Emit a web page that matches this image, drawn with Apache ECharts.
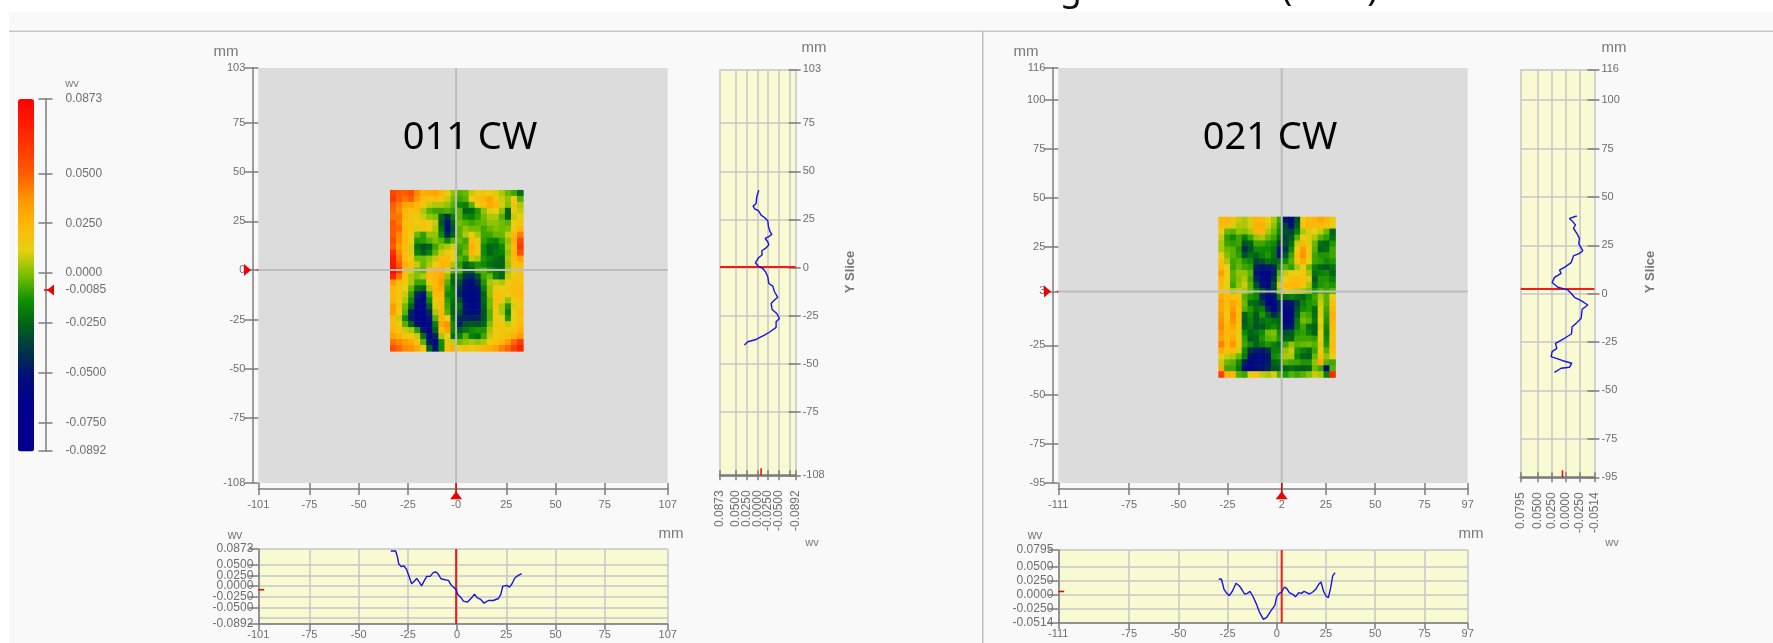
<!DOCTYPE html>
<html>
<head>
<meta charset="utf-8">
<style>
  html, body { margin: 0; padding: 0; background: #fff; }
  #chart { width: 1773px; height: 643px; }
</style>
<script src="https://cdn.jsdelivr.net/npm/echarts@6/dist/echarts.min.js"></script>
</head>
<body>
<div id="chart"></div>
<script>
// colour scale
const scaleMin = -0.0892;
const scaleMax = 0.0873;
const colorStops = ['#00008c', '#00008c', '#00008c', '#000f78', '#003448', '#00601a', '#109000', '#78c000',
  '#e8d010', '#ffb808', '#ff9800', '#ff5e00', '#ff3a00', '#ff1c00', '#ff0000'];
const scaleTicks = [0.0873, 0.05, 0.025, 0, -0.0085, -0.025, -0.05, -0.075, -0.0892];

// left panel ticks
const leftXTicks = [-101, -75, -50, -25, -0.5, 25, 50, 75, 107];
const leftXPlainTicks = [-101, -75, -50, -25, -0.5, 25, 50, 75, 107];
const leftYTicks = [103, 75, 50, 25, 0.3, -25, -50, -75, -108];
const leftSliceYTicks = [103, 75, 50, 25, 0, -25, -50, -75, -108];
const leftValueTicks = [0.0873, 0.05, 0.025, 0, -0.025, -0.05, -0.075, -0.0892];

// right panel ticks
const rightXTicks = [-111, -75, -50, -25, 2.5, 25, 50, 75, 97];
const rightLowerXTicks = [-111, -75, -50, -25, 0, 25, 50, 75, 97];
const rightYTicks = [116, 100, 75, 50, 25, 2.4, -25, -50, -75, -95];
const rightSliceYTicks = [116, 100, 75, 50, 25, 0, -25, -50, -75, -95];
const rightValueTicks = [0.0795, 0.05, 0.025, 0, -0.025, -0.0514];

// slices: [mm, wv]
const leftXSlice = [[-33.7,.0827],[-31.2,.0827],[-30.3,.0686],[-29.7,.0528],[-28.3,.0457],[-27,.0473],[-25.6,.0386],[-24.3,.0213],[-23.1,.0055],[-21.9,.011],[-20.5,.0181],[-19.2,.0095],[-18,.0008],[-16.8,.0118],[-15.4,.0229],[-13.7,.0229],[-12,.0323],[-10.7,.0331],[-9.5,.0276],[-8.2,.0173],[-6.1,.015],[-4.4,.0134],[-3.2,.0039],[-1.9,-.0024],[-.5,-.0079],[.1,-.0181],[1.8,-.026],[3.2,-.0355],[5.2,-.0378],[6.2,-.0339],[7.4,-.0276],[8.8,-.0189],[10.3,-.0276],[12,-.0315],[13.7,-.0402],[15.9,-.0339],[18.4,-.0339],[21,-.0292],[22.2,-.0197],[23.2,0],[25.2,.0016],[26.6,-.0024],[27.9,.0055],[29.4,.0197],[31.1,.0252],[32.8,.0292]];
const rightXSlice = [[-29.5,.0276],[-28.1,.027],[-26.8,.009],[-25.4,.0018],[-24.1,-.0024],[-22.5,.006],[-20.7,.0198],[-19,.015],[-17.6,.0078],[-16.4,.0006],[-14.9,.0018],[-13.6,.0054],[-12.2,-.003],[-10.5,-.0162],[-8.8,-.0318],[-6.8,-.045],[-5.1,-.0414],[-3.1,-.03],[-1,-.0198],[0,-.0042],[1.3,.0018],[2.5,.0042],[3.9,.0132],[5.1,.0102],[6.4,.003],[8.1,0],[9.5,-.0042],[11.2,.003],[12.5,.0018],[13.9,.0054],[15.2,.003],[16.6,.0006],[18.3,.0042],[20,.0102],[21.3,.018],[22.5,.0222],[23.7,.006],[25,-.003],[26.2,-.006],[27.4,.012],[28.4,.033],[29.6,.039]];
const leftYSlice = [[-.0031,40.2],[.0016,36.8],[.0031,33.3],[.0101,31.9],[.0062,30.4],[-.0023,29.5],[-.0086,27.2],[-.0163,26],[-.0241,24.3],[-.0257,21.2],[-.0295,18.6],[-.0334,17.2],[-.0264,16],[-.0179,15.1],[-.0241,13.4],[-.0264,11.7],[-.0187,9.9],[-.0101,8.7],[-.0109,6.5],[-.0031,5.2],[.0047,2.5],[-.0031,.4],[-.0124,-.5],[-.0187,-2.2],[-.0241,-4.8],[-.0264,-8.3],[-.0358,-9.7],[-.0397,-12.6],[-.0474,-15.5],[-.0397,-16.9],[-.0319,-18.7],[-.0342,-21.8],[-.0451,-23.9],[-.0513,-26.5],[-.0435,-28.2],[-.0435,-31.1],[-.0295,-33.4],[-.0163,-35.1],[.0031,-37.4],[.0226,-38.6],[.0303,-40.3]];
const rightYSlice = [[-.0201,40.15],[-.0071,38.9],[-.013,37.2],[-.0178,35.5],[-.0142,33.8],[-.0201,31.2],[-.0249,28.6],[-.0237,25.7],[-.0308,22.2],[-.0249,20.8],[-.0142,19.5],[-.0101,16],[.0018,13.6],[.0107,12.2],[.0077,10.5],[.0195,8.4],[.0237,5.7],[.0136,3.3],[-.0041,1.9],[-.0101,.2],[-.016,-1.9],[-.0278,-3.6],[-.0397,-5.9],[-.0296,-8.1],[-.0278,-12.8],[-.019,-15.4],[-.0118,-17.1],[-.0107,-20.9],[.0018,-23.1],[.0178,-25.7],[.0154,-28.3],[.0237,-30],[.0255,-32.6],[.0047,-34.7],[-.0113,-36],[-.0071,-38.1],[.0077,-38.6],[.0195,-40.7]];

// map cells, thousandths of a wv, top row first
const leftMap = [
  [58,52,50,55,40,28,30,32,25,15,2,-5,-3,8,15,18,14,10,5,-3,-8,-22],
  [62,50,45,50,35,22,20,22,18,8,-2,-8,-5,12,20,25,32,18,8,2,15,-5],
  [50,42,32,30,25,18,8,5,5,2,-5,-15,-18,-5,12,20,30,25,10,0,18,5],
  [48,40,25,20,22,5,-5,-8,-8,-6,-10,-5,-26,-24,-12,2,10,12,2,-25,15,8],
  [45,45,25,18,15,8,2,0,-25,-40,-18,-5,-15,-18,-10,-2,5,5,-5,-26,8,12],
  [52,42,20,20,15,20,15,8,-28,-50,-25,-2,-5,-8,-5,-3,2,2,-2,-5,12,18],
  [50,48,25,18,10,18,15,5,-22,-52,-30,-5,2,-2,-2,-8,-3,0,-2,0,15,25],
  [50,40,22,15,-3,-10,2,2,-15,-45,-25,-5,5,15,5,-8,-8,-3,-3,8,25,42],
  [55,40,25,12,-12,-10,-5,0,-5,-15,-5,-3,-8,22,15,-10,-15,-18,-8,2,28,58],
  [50,35,22,10,-22,-30,-25,-8,2,5,10,-8,-5,28,18,-15,-25,-22,-15,5,22,62],
  [68,40,22,10,-18,-25,-18,-3,8,15,12,-10,-2,25,15,-15,-25,-20,-18,2,25,55],
  [75,45,22,15,-2,-2,2,8,22,22,12,-5,-10,8,5,-12,-18,-22,-25,5,22,32],
  [78,50,28,18,8,-3,5,12,22,25,5,-10,-25,-18,-12,-15,-22,-25,-25,2,18,22],
  [82,62,22,10,0,-3,22,25,28,12,-5,-5,-25,-25,-8,-5,-12,-18,-22,5,12,18],
  [72,45,18,5,0,5,22,25,30,2,-22,-20,-40,-45,-30,-8,-2,-18,-25,8,15,18],
  [35,22,15,5,-8,-8,15,25,35,-5,-25,-30,-50,-55,-40,-12,5,8,5,15,20,20],
  [25,18,12,-3,-22,-25,5,25,30,-10,-20,-40,-50,-55,-50,-18,2,15,12,18,22,22],
  [22,18,8,-10,-45,-52,-8,22,25,-15,-18,-45,-55,-58,-52,-25,2,20,18,12,22,25],
  [25,15,5,-15,-52,-58,-15,15,22,-10,-22,-30,-55,-60,-55,-25,-2,20,15,2,15,20],
  [35,18,-2,-25,-58,-60,-28,10,22,-8,-25,-22,-50,-58,-55,-28,-2,18,5,-12,10,18],
  [35,15,-5,-45,-60,-60,-42,5,25,-5,-25,-30,-50,-55,-50,-30,-5,15,5,-18,12,22],
  [22,8,-15,-48,-60,-62,-50,-5,25,12,-22,-42,-45,-45,-45,-30,-5,15,12,-12,12,20],
  [22,15,-5,-25,-52,-60,-58,-18,30,38,-15,-45,-30,-28,-30,-25,0,18,15,8,15,22],
  [25,18,8,5,-10,-48,-60,-25,22,32,-15,-28,-20,-15,-12,-12,5,15,18,15,20,28],
  [32,28,18,15,8,-22,-55,-45,5,12,-22,-18,-5,-18,-22,-8,8,15,18,20,28,35],
  [45,40,35,30,18,-5,-48,-58,-15,10,8,-2,2,5,2,5,15,20,25,35,48,62],
  [55,48,40,38,30,18,-25,-50,-15,22,28,15,20,15,20,25,28,32,42,48,60,72]
];
const rightMap = [
  [25,25,20,8,5,10,25,22,12,5,-8,-50,-55,-30,15,22,25,32,25,15],
  [22,20,10,5,5,10,28,28,10,2,-12,-35,-52,-25,20,25,22,22,20,12],
  [12,-3,-5,2,0,5,25,25,5,-3,-15,-30,-35,-18,5,10,12,8,-3,-25],
  [8,-10,-15,-8,-18,-8,2,5,-3,-8,-22,-35,-28,-5,15,10,5,-5,-10,-22],
  [5,-8,-10,-8,-30,-25,-8,-8,-12,-15,-35,-32,-22,8,25,10,-3,-22,-25,-12],
  [5,-3,-5,-12,-42,-30,-15,-15,-15,-20,-50,-38,-15,15,35,15,-5,-25,-22,-8],
  [12,0,-5,-10,-30,-22,-25,-18,-12,-22,-50,-28,-8,22,38,15,-8,-12,-12,-8],
  [20,5,-8,-5,-12,-15,-35,-30,-22,-25,-22,-15,-5,18,30,12,-8,-10,-15,-12],
  [22,12,-8,-3,-8,-10,-45,-50,-48,-45,-15,-5,-10,5,12,-2,-18,-25,-28,-22],
  [35,12,-5,2,2,-5,-50,-58,-58,-45,-5,8,15,12,18,5,-22,-18,-15,-25],
  [25,12,-5,0,5,-8,-45,-55,-58,-40,0,12,20,22,20,10,-28,-12,-12,-18],
  [22,12,-8,2,8,-5,-30,-50,-55,-32,8,22,25,25,18,5,-22,-12,-10,-12],
  [20,15,5,8,5,-3,-18,-30,-45,-35,2,12,10,8,5,0,-12,-5,-8,-5],
  [28,22,20,18,-5,-12,-15,-45,-58,-55,-18,-22,-18,-22,-25,-15,-8,5,-5,12],
  [32,22,30,22,-3,-22,-25,-35,-58,-58,-40,-50,-48,-35,-18,-12,-10,8,-5,18],
  [30,18,35,20,-5,-12,-22,-18,-45,-60,-40,-55,-55,-30,-15,-12,-22,10,-8,22],
  [35,15,40,22,-25,-15,-28,-12,-25,-42,-30,-58,-58,-25,-5,-8,-22,10,-10,28],
  [38,18,38,20,-28,-18,-28,-22,-18,-22,-25,-58,-55,-20,-2,-5,-20,12,-12,25],
  [40,22,30,18,-25,-20,-30,-28,-20,-15,-22,-50,-50,-18,-8,-22,-25,10,-15,22],
  [35,25,25,15,-15,-25,-22,-15,-2,0,-15,-30,-28,-12,-10,-18,-25,12,-18,20],
  [32,22,30,15,-10,-28,-25,-12,-5,-3,-12,-25,-25,-8,-8,-8,-10,12,-15,18],
  [42,25,38,18,-8,-15,-25,-18,-12,-18,-22,-8,2,-5,-3,-2,-5,10,-12,22],
  [30,20,22,10,-15,-40,-45,-48,-40,-18,-18,2,8,-12,-18,-22,-8,15,-5,20],
  [15,8,5,-3,-18,-50,-55,-55,-50,-15,-12,5,5,-15,-25,-28,-3,22,2,12],
  [8,-3,-5,-15,-45,-58,-55,-52,-48,-25,-22,-5,-8,-8,-12,-12,2,30,-5,-8],
  [30,-8,-8,-20,-52,-58,-52,-50,-45,-30,-28,-25,-22,-25,-28,-25,-2,-8,-52,-5],
  [60,28,25,-5,-8,12,18,8,5,10,-5,-12,-5,-8,-5,0,8,5,-18,70]
];

const axisGray = '#7c7c7c';
const labelGray = '#6e6e6e';
const gridGray = '#c6c6c6';
const labelFont = 'Liberation Sans';

function cells(matrix, x0, x1, y0, y1) {
  const rows = matrix.length, cols = matrix[0].length;
  const dx = (x1 - x0) / cols, dy = (y0 - y1) / rows;
  const out = [];
  matrix.forEach((row, j) => row.forEach((v, i) => {
    out.push([x0 + i * dx, y0 - j * dy, v / 1000, dx, dy]);
  }));
  return out;
}

function renderCell(params, api) {
  const a = api.coord([api.value(0), api.value(1)]);
  const b = api.coord([api.value(0) + api.value(3), api.value(1) - api.value(4)]);
  return {
    type: 'rect',
    shape: { x: a[0], y: a[1], width: b[0] - a[0] + 0.6, height: b[1] - a[1] + 0.6 },
    style: { fill: api.visual('color') }
  };
}

const grids = [], xAxes = [], yAxes = [], series = [];

// one axis plus a tickless twin, together they give ticks through the line
function addAxis(list, cfg, outLen, inLen) {
  const base = {
    type: 'value', min: cfg.min, max: cfg.max, inverse: !!cfg.inverse, gridIndex: cfg.grid,
    position: cfg.position, offset: cfg.offset || 0, z: 4
  };
  const idx = list.length;
  list.push(Object.assign({}, base, {
    axisLine: { show: !cfg.noLine, onZero: false, lineStyle: { color: axisGray, width: cfg.lineWidth || 1.5 } },
    axisTick: { show: outLen > 0, length: outLen, customValues: cfg.ticks, lineStyle: { color: axisGray, width: 1.5 } },
    axisLabel: {
      show: !cfg.noLabel, customValues: cfg.ticks, margin: cfg.margin, rotate: cfg.rotate || 0,
      fontFamily: labelFont, fontSize: cfg.fontSize || 11, color: labelGray, formatter: cfg.format,
      hideOverlap: false, showMinLabel: true, showMaxLabel: true
    },
    splitLine: cfg.split ? { show: true, lineStyle: { color: gridGray, width: 1.5 } } : { show: false }
  }));
  if (cfg.split) list[idx].splitLine.customValues = cfg.ticks;
  if (inLen) {
    list.push(Object.assign({}, base, {
      axisLine: { show: false, onZero: false },
      axisTick: { show: true, inside: true, length: inLen, customValues: cfg.ticks, lineStyle: { color: axisGray, width: 1.5 } },
      axisLabel: { show: false },
      splitLine: { show: false }
    }));
  }
  return idx;
}

function addLine(xi, yi, data, color, width, z) {
  series.push({
    type: 'line', xAxisIndex: xi, yAxisIndex: yi, data: data, symbol: 'none', silent: true, clip: false,
    lineStyle: { color: color, width: width }, z: z || 6, animation: false
  });
}

function addMarker(xi, yi, point, rotate, size) {
  series.push({
    type: 'scatter', xAxisIndex: xi, yAxisIndex: yi, data: [point], symbol: 'triangle', symbolSize: size,
    symbolRotate: rotate, silent: true, clip: false, itemStyle: { color: '#f00000', opacity: 1 }, z: 8, animation: false
  });
}

const fmt4 = v => v.toFixed(4);
const heatIndexes = [];

function addPanel(p) {
  // main map
  let g = grids.length;
  grids.push({ show: true, left: p.mapLeft, top: 68, width: 409.4, height: 415, backgroundColor: '#dcdcdc', borderWidth: 0 });
  const mx = addAxis(xAxes, { grid: g, min: p.xMin, max: p.xMax, position: 'bottom', offset: 6, ticks: p.xTicks, margin: 10,
    format: p.xLabel }, 6, 6);
  const my = addAxis(yAxes, { grid: g, min: p.yMin, max: p.yMax, position: 'left', offset: 6, ticks: p.yTicks, margin: 7,
    format: p.yLabel }, 8, 6);
  heatIndexes.push(series.length);
  series.push({
    type: 'custom', xAxisIndex: mx, yAxisIndex: my, coordinateSystem: 'cartesian2d', silent: true, animation: false,
    data: cells(p.map, p.mapX[0], p.mapX[1], p.mapY[0], p.mapY[1]), encode: { x: 0, y: 1 }, renderItem: renderCell, z: 3
  });
  addLine(mx, my, [[p.crossX, p.yMin], [p.crossX, p.yMax]], '#bdbdbd', 2, 5);
  addLine(mx, my, [[p.xMin, p.crossY], [p.xMax, p.crossY]], '#bdbdbd', 2, 5);
  addLine(mx, my, [[p.crossX, p.yMin], [p.crossX, p.yMin - 6]], '#f00000', 1.5);
  addLine(mx, my, [[p.xMin, p.crossY], [p.xMin - 6, p.crossY]], '#f00000', 1.5);
  addMarker(mx, my, [p.crossX, p.yMin - 6.2], 0, [12, 8]);
  addMarker(mx, my, [p.xMin - 5.5, p.crossY], -90, [12, 7]);

  // y slice
  g = grids.length;
  grids.push({ show: true, left: p.sliceLeft, top: 69.3, width: p.sliceWidth, height: p.sliceHeight, backgroundColor: '#fafad2', borderWidth: 0 });
  const sx = addAxis(xAxes, { grid: g, min: p.vMin, max: p.vMax, inverse: true, position: 'bottom', ticks: p.vTicks, margin: 15,
    rotate: 90, format: fmt4, split: true, lineWidth: 2.5, fontSize: 12 }, 5, 5);
  const sy = addAxis(yAxes, { grid: g, min: p.yMin, max: p.yMax, position: 'right', ticks: p.sliceYTicks, margin: 7, noLine: true,
    split: true, format: v => String(v) }, 5, 7);
  addLine(sx, sy, p.ySlice, '#1414e6', 1.4, 6);
  addLine(sx, sy, [[p.vMax, p.crossY], [p.vMin, p.crossY]], '#ee1c1c', 2, 5);
  addLine(sx, sy, [[p.cursor, p.yMin], [p.cursor, p.yMin + 3.6]], '#f00000', 1.5, 7);

  // x slice
  g = grids.length;
  grids.push({ show: true, left: p.mapLeft, top: p.lowerTop, width: 409.4, height: p.lowerHeight, backgroundColor: '#fafad2', borderWidth: 0 });
  const lx = addAxis(xAxes, { grid: g, min: p.xMin, max: p.xMax, position: 'bottom', ticks: p.lowerXTicks, margin: 5,
    split: true, noLine: false, format: p.xLowerLabel }, 6, 0);
  const ly = addAxis(yAxes, { grid: g, min: p.vMin, max: p.vMax, position: 'left', ticks: p.vTicks, margin: 5,
    split: true, format: fmt4, fontSize: 12 }, 10, 0);
  addLine(lx, ly, p.xSlice, '#1414e6', 1.4, 6);
  addLine(lx, ly, [[p.crossX, p.vMin], [p.crossX, p.vMax]], '#ee1c1c', 2, 5);
  addLine(lx, ly, [[p.xMin, p.cursor], [p.xMin + 3, p.cursor]], '#f00000', 1.5, 7);
}

addPanel({
  mapLeft: 258.3, xMin: -101, xMax: 107, yMin: -108, yMax: 103, xTicks: leftXTicks, yTicks: leftYTicks,
  xLabel: v => (v === -0.5 ? '-0' : String(v)), yLabel: v => (v === 0.3 ? '0' : String(v)),
  map: leftMap, mapX: [-34.1, 33.5], mapY: [41, -40.9], crossX: -0.5, crossY: 0.3,
  sliceLeft: 720, sliceWidth: 75.7, sliceHeight: 406, vMin: -0.0892, vMax: 0.0873, vTicks: leftValueTicks,
  sliceYTicks: leftSliceYTicks, ySlice: leftYSlice, cursor: -0.0085,
  lowerTop: 549, lowerHeight: 75, lowerXTicks: leftXPlainTicks.map(v => (v === -0.5 ? 0 : v)),
  xLowerLabel: v => String(v), xSlice: leftXSlice
});
addPanel({
  mapLeft: 1058.3, xMin: -111, xMax: 97, yMin: -95, yMax: 116, xTicks: rightXTicks, yTicks: rightYTicks,
  xLabel: v => (v === 2.5 ? '2' : String(v)), yLabel: v => (v === 2.4 ? '3' : String(v)),
  map: rightMap, mapX: [-29.7, 29.7], mapY: [40.4, -41.2], crossX: 2.5, crossY: 2.4,
  sliceLeft: 1520.7, sliceWidth: 73.7, sliceHeight: 408, vMin: -0.0514, vMax: 0.0795, vTicks: rightValueTicks,
  sliceYTicks: rightSliceYTicks, ySlice: rightYSlice, cursor: 0.0053,
  lowerTop: 550, lowerHeight: 73, lowerXTicks: rightLowerXTicks,
  xLowerLabel: v => String(v), xSlice: rightXSlice
});

// scale axis beside the colour bar
const scaleGrid = grids.length;
grids.push({ left: 45.5, top: 99, width: 7, height: 352 });
const scaleX = xAxes.length;
xAxes.push({ type: 'value', gridIndex: scaleGrid, min: 0, max: 7, show: false });
const scaleY = addAxis(yAxes, { grid: scaleGrid, min: scaleMin, max: scaleMax, position: 'right', offset: 7, ticks: scaleTicks, margin: 6,
  format: fmt4, fontSize: 12 }, 0, 0);
yAxes[scaleY].axisLine.show = false;
const scaleTickAxis = addAxis(yAxes, { grid: scaleGrid, min: scaleMin, max: scaleMax, position: 'left', ticks: scaleTicks.filter(v => v !== -0.0085),
  noLabel: true }, 7, 7);
addLine(scaleX, scaleTickAxis, [[-7, -0.0085], [5, -0.0085]], '#f00000', 1.5);
addMarker(scaleX, scaleTickAxis, [5, -0.0085], 90, [11, 7]);

function label(text, x, y, font, fill, extra) {
  return Object.assign({ type: 'text', x: x, y: y, z: 20, silent: true,
    style: { text: text, font: font, fill: fill, textAlign: 'center', textVerticalAlign: 'middle' } }, extra || {});
}

const graphics = [
  { type: 'rect', z: -20, silent: true, shape: { x: 9, y: 12, width: 1764, height: 631 }, style: { fill: '#f9f9f9' } },
  { type: 'rect', z: -19, silent: true, shape: { x: 9, y: 30.5, width: 1764, height: 1.5 }, style: { fill: '#c8c8c8' } },
  { type: 'rect', z: -19, silent: true, shape: { x: 982, y: 31, width: 1.5, height: 612 }, style: { fill: '#c0c0c0' } },
  label('Rated Transformer at the range of 1000 ft (30m)', 1378, -28, '36px "Noto Sans"', '#111', { style: {
    text: 'Rated Transformer at the range of 1000 ft (30m)', font: '36px "Noto Sans"', fill: '#111', textAlign: 'right', textVerticalAlign: 'top' } }),
  label('011 CW', 470, 138, '38px "Noto Sans"', '#000'),
  label('021 CW', 1270, 138, '38px "Noto Sans"', '#000'),
  label('wv', 72, 84, '11px "Liberation Sans"', '#777'),
  label('mm', 226, 52, '15px "Liberation Sans"', '#777'),
  label('mm', 814, 48, '15px "Liberation Sans"', '#777'),
  label('mm', 1026, 52, '15px "Liberation Sans"', '#777'),
  label('mm', 1614, 48, '15px "Liberation Sans"', '#777'),
  label('wv', 812, 543, '11px "Liberation Sans"', '#777'),
  label('wv', 1612, 543, '11px "Liberation Sans"', '#777'),
  label('wv', 235, 536, '12px "Liberation Sans"', '#777'),
  label('wv', 1035, 536, '12px "Liberation Sans"', '#777'),
  label('mm', 671, 534, '15px "Liberation Sans"', '#777'),
  label('mm', 1471, 534, '15px "Liberation Sans"', '#777'),
  label('Y Slice', 850, 272, 'bold 13px "Liberation Sans"', '#777', { rotation: Math.PI / 2 }),
  label('Y Slice', 1650, 272, 'bold 13px "Liberation Sans"', '#777', { rotation: Math.PI / 2 })
];

const chart = echarts.init(document.getElementById('chart'), null, { renderer: 'canvas' });
chart.setOption({
  animation: false,
  backgroundColor: '#ffffff',
  grid: grids,
  xAxis: xAxes,
  yAxis: yAxes,
  visualMap: {
    type: 'continuous', min: scaleMin, max: scaleMax, dimension: 2, seriesIndex: heatIndexes,
    left: 18, top: 99, itemWidth: 16, itemHeight: 352.5, padding: 0, calculable: false, hoverLink: false,
    showLabel: false, text: null, inRange: { color: colorStops }, textStyle: { fontSize: 0 }
  },
  graphic: graphics,
  series: series
});
</script>
</body>
</html>
